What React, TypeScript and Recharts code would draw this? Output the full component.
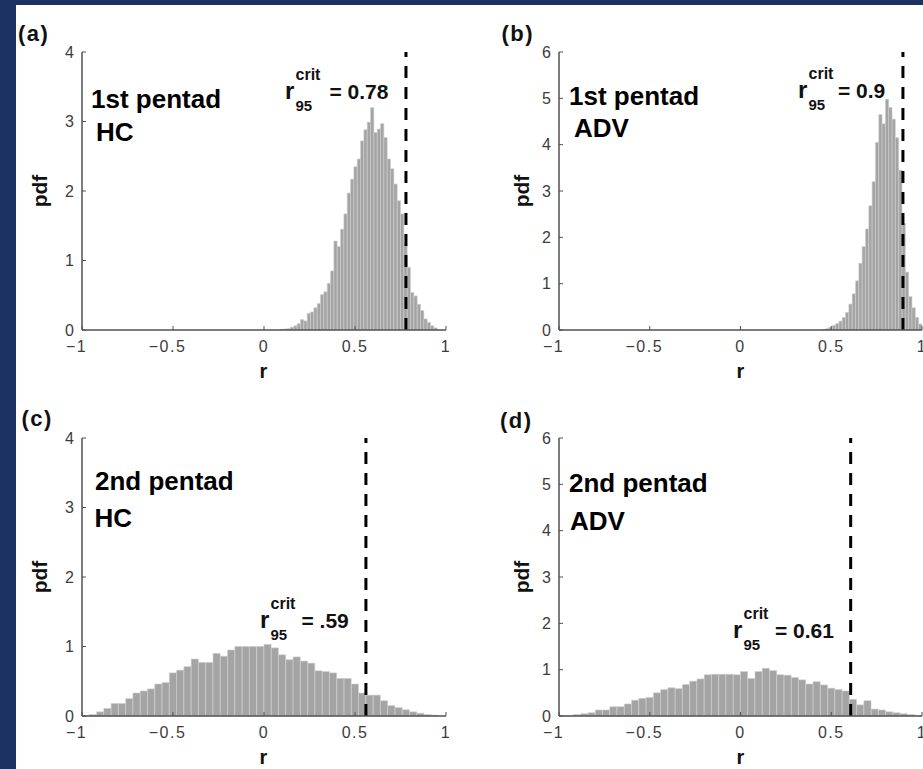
import React from 'react';
import { BarChart, Bar, XAxis, YAxis, ReferenceLine } from 'recharts';

const FONT = "'Liberation Sans', Arial, Helvetica, sans-serif";

const rTicks = [-1, -0.5, 0, 0.5, 1];
const pdfTicks4 = [0, 1, 2, 3, 4];
const pdfTicks6 = [0, 1, 2, 3, 4, 5, 6];

// (a) 1st pentad, HC
const binsA = [
  0.1, 0.1183, 0.1366, 0.155, 0.1733, 0.1916, 0.2099, 0.2282, 0.2466, 0.2649,
  0.2832, 0.3015, 0.3198, 0.3382, 0.3565, 0.3748, 0.3931, 0.4114, 0.4298, 0.4481,
  0.4664, 0.4847, 0.503, 0.5214, 0.5397, 0.558, 0.5763, 0.5946, 0.613, 0.6313,
  0.6496, 0.6679, 0.6862, 0.7046, 0.7229, 0.7412, 0.7595, 0.7778, 0.7962, 0.8145,
  0.8328, 0.8511, 0.8694, 0.8878, 0.9061, 0.9244, 0.9427,
];
const pdfA = [
  0.01, 0.015, 0.02, 0.04, 0.06, 0.09, 0.15, 0.13, 0.24, 0.26,
  0.32, 0.38, 0.51, 0.55, 0.67, 0.85, 1.28, 1.2, 1.45, 1.67,
  1.97, 2.17, 2.35, 2.46, 2.72, 2.88, 2.99, 3.2, 2.84, 2.89,
  2.97, 2.77, 2.46, 2.32, 2.1, 1.86, 1.67, 1.24, 0.9, 0.54,
  0.49, 0.37, 0.28, 0.16, 0.11, 0.06, 0.03,
];

// (b) 1st pentad, ADV
const binsB = [
  0.4597, 0.478, 0.4963, 0.5147, 0.533, 0.5513, 0.5696, 0.5879, 0.6062, 0.6246,
  0.6429, 0.6612, 0.6795, 0.6978, 0.7161, 0.7344, 0.7527, 0.7711, 0.7894, 0.8077,
  0.826, 0.8443, 0.8626, 0.881, 0.8993, 0.9176, 0.9359, 0.9542, 0.9725, 0.9908,
];
const pdfB = [
  0.01, 0.03, 0.06, 0.1, 0.14, 0.19, 0.27, 0.38, 0.56, 0.78,
  1.06, 1.44, 1.8, 2.18, 2.68, 3.2, 4.05, 4.65, 4.45, 4.98,
  4.8, 4.55, 4.15, 3.45, 2.3, 1.25, 0.72, 0.48, 0.27, 0.13,
];

// (c) 2nd pentad, HC
const binsC = [
  -0.98, -0.94, -0.9, -0.86, -0.82, -0.78, -0.74, -0.7, -0.66, -0.62,
  -0.58, -0.54, -0.5, -0.46, -0.42, -0.38, -0.34, -0.3, -0.26, -0.22,
  -0.18, -0.14, -0.1, -0.06, -0.02, 0.02, 0.06, 0.1, 0.14, 0.18,
  0.22, 0.26, 0.3, 0.34, 0.38, 0.42, 0.46, 0.5, 0.54, 0.58,
  0.62, 0.66, 0.7, 0.74, 0.78, 0.82, 0.86, 0.9, 0.94,
];
const pdfC = [
  0.005, 0.02, 0.06, 0.11, 0.18, 0.18, 0.25, 0.33, 0.36, 0.39,
  0.46, 0.48, 0.62, 0.66, 0.71, 0.82, 0.77, 0.77, 0.9, 0.86,
  0.95, 1.0, 1.0, 1.0, 1.0, 1.03, 0.98, 0.88, 0.81, 0.85,
  0.79, 0.76, 0.65, 0.64, 0.62, 0.54, 0.54, 0.46, 0.33, 0.3,
  0.3, 0.22, 0.15, 0.12, 0.09, 0.06, 0.04, 0.02, 0.01,
];

// (d) 2nd pentad, ADV
const binsD = [
  -0.98, -0.94, -0.9, -0.86, -0.82, -0.78, -0.74, -0.7, -0.66, -0.62,
  -0.58, -0.54, -0.5, -0.46, -0.42, -0.38, -0.34, -0.3, -0.26, -0.22,
  -0.18, -0.14, -0.1, -0.06, -0.02, 0.02, 0.06, 0.1, 0.14, 0.18,
  0.22, 0.26, 0.3, 0.34, 0.38, 0.42, 0.46, 0.5, 0.54, 0.58,
  0.62, 0.66, 0.7, 0.74, 0.78, 0.82, 0.86, 0.9, 0.94, 0.98,
];
const pdfD = [
  0.005, 0.01, 0.03, 0.05, 0.07, 0.13, 0.13, 0.2, 0.2, 0.26,
  0.34, 0.38, 0.4, 0.5, 0.57, 0.61, 0.59, 0.68, 0.75, 0.8,
  0.89, 0.9, 0.9, 0.9, 0.89, 0.96, 0.81, 0.96, 1.03, 0.98,
  0.89, 0.88, 0.83, 0.78, 0.69, 0.74, 0.67, 0.6, 0.57, 0.54,
  0.36, 0.24, 0.33, 0.15, 0.13, 0.09, 0.07, 0.05, 0.03, 0.01,
];

// where the dashed r95 lines sit
const critA = 0.78;
const critB = 0.895;
const critC = 0.56;
const critD = 0.607;

const ML = 70;
const MT = 10;
const MB = 60;
const MR = 10;

const TICK_FILL = '#3c3c3c';

function RTick(props: any) {
  const { x, y, payload } = props;
  const v = payload.value as number;
  const label = v < 0 ? '\u2212' + Math.abs(v) : String(v);
  return (
    <text
      x={x}
      y={y}
      dx={v < 0 ? -5.5 : 0}
      dy={12}
      textAnchor="middle"
      fill={TICK_FILL}
      fontSize={16}
      letterSpacing={1.5}
      fontFamily={FONT}
    >
      {label}
    </text>
  );
}

interface PanelProps {
  left: number;
  top: number;
  width: number;
  height: number;
  bins: number[];
  pdf: number[];
  yMax: number;
  yTicks: number[];
  crit: number;
}

function HistPanel({ left, top, width, height, bins, pdf, yMax, yTicks, crit }: PanelProps) {
  const data = bins.map((r, i) => ({ r, pdf: pdf[i] }));
  const barPx = ((bins[1] - bins[0]) * width) / 2 * 0.98;
  const axisLine = { stroke: '#505050', strokeWidth: 1.5 };
  const tickLine = { stroke: '#505050', strokeWidth: 1 };

  return (
    <div style={{ position: 'absolute', left: left - ML, top: top - MT }}>
      <BarChart
        width={width + ML + MR}
        height={height + MT + MB}
        data={data}
        margin={{ top: MT, right: MR, bottom: 0, left: 0 }}
        barCategoryGap={0}
        barGap={0}
      >
        <Bar
          xAxisId="bottom"
          yAxisId="left"
          dataKey="pdf"
          fill="#a4a4a4"
          stroke="#cdcdcd"
          strokeWidth={0.6}
          barSize={barPx}
          isAnimationActive={false}
        />
        <XAxis
          xAxisId="bottom"
          type="number"
          dataKey="r"
          domain={[-1, 1]}
          allowDataOverflow
          ticks={rTicks}
          interval={0}
          height={MB}
          tickSize={-4}
          tickMargin={14}
          axisLine={axisLine}
          tickLine={tickLine}
          tick={(p: any) => <RTick {...p} />}
        />
        <XAxis
          xAxisId="top"
          orientation="top"
          type="number"
          dataKey="r"
          domain={[-1, 1]}
          allowDataOverflow
          ticks={rTicks}
          interval={0}
          height={0}
          tickSize={-4}
          axisLine={axisLine}
          tickLine={tickLine}
          tick={false}
        />
        <YAxis
          yAxisId="left"
          type="number"
          domain={[0, yMax]}
          allowDataOverflow
          ticks={yTicks}
          interval={0}
          width={ML}
          tickSize={-4}
          tickMargin={12}
          axisLine={axisLine}
          tickLine={tickLine}
          tick={{ fill: TICK_FILL, fontSize: 16, fontFamily: FONT }}
        />
        <YAxis
          yAxisId="right"
          orientation="right"
          type="number"
          domain={[0, yMax]}
          allowDataOverflow
          ticks={yTicks}
          interval={0}
          width={0}
          tickSize={-4}
          axisLine={axisLine}
          tickLine={tickLine}
          tick={false}
        />
        <ReferenceLine
          xAxisId="bottom"
          yAxisId="left"
          x={crit}
          stroke="#000"
          strokeWidth={3}
          strokeDasharray="12 9"
        />
      </BarChart>
    </div>
  );
}

function CritLabel({ x, y, xEq, value }: { x: number; y: number; xEq: number; value: string }) {
  return (
    <g fontFamily={FONT} fontWeight="bold" fill="#111">
      <text x={x} y={y} fontSize={24}>r</text>
      <text x={x + 10.5} y={y - 19} fontSize={16}>crit</text>
      <text x={x + 10.5} y={y + 12} fontSize={15}>95</text>
      <text x={xEq} y={y} fontSize={21}>{'= ' + value}</text>
    </g>
  );
}

function AxisLabels({ left, top, width, height, pdfX }: { left: number; top: number; width: number; height: number; pdfX: number }) {
  const cy = top + height / 2;
  return (
    <g fontFamily={FONT} fontWeight="bold" fill="#111">
      <text x={left + width / 2} y={top + height + 47.5} fontSize={20} textAnchor="middle">r</text>
      <text x={pdfX} y={cy + 5.5} fontSize={21} textAnchor="middle" transform={`rotate(-90, ${pdfX}, ${cy})`}>pdf</text>
    </g>
  );
}

export default function App() {
  return (
    <div
      style={{
        position: 'absolute',
        left: 0,
        top: 0,
        width: 923,
        height: 769,
        overflow: 'hidden',
        background: '#1b3263',
      }}
    >
      <div style={{ position: 'absolute', left: 16, top: 5, width: 907, height: 764, background: '#fff' }} />

      <HistPanel left={81.5} top={52} width={364} height={278} bins={binsA} pdf={pdfA} yMax={4} yTicks={pdfTicks4} crit={critA} />
      <HistPanel left={559} top={52} width={363} height={278} bins={binsB} pdf={pdfB} yMax={6} yTicks={pdfTicks6} crit={critB} />
      <HistPanel left={81.5} top={438} width={364} height={278} bins={binsC} pdf={pdfC} yMax={4} yTicks={pdfTicks4} crit={critC} />
      <HistPanel left={559} top={438} width={363} height={278} bins={binsD} pdf={pdfD} yMax={6} yTicks={pdfTicks6} crit={critD} />

      <svg style={{ position: 'absolute', left: 0, top: 0 }} width={923} height={769}>
        <g fontFamily={FONT} fontWeight="bold" fill="#111" fontSize={22} letterSpacing={1.5}>
          <text x={18} y={40.5}>(a)</text>
          <text x={501.5} y={40.5}>(b)</text>
          <text x={21.5} y={426}>(c)</text>
          <text x={500} y={427.5}>(d)</text>
        </g>

        <g fontFamily={FONT} fontWeight="bold" fill="#000" fontSize={26}>
          <text x={91} y={108}>1st pentad</text>
          <text x={96} y={140.5}>HC</text>
          <text x={569} y={105}>1st pentad</text>
          <text x={574} y={137}>ADV</text>
          <text x={95} y={490}>2nd pentad</text>
          <text x={94.5} y={527}>HC</text>
          <text x={569} y={492}>2nd pentad</text>
          <text x={570} y={530}>ADV</text>
        </g>

        <CritLabel x={285} y={99} xEq={329.5} value="0.78" />
        <CritLabel x={798} y={98} xEq={838} value="0.9" />
        <CritLabel x={260} y={628} xEq={301.5} value=".59" />
        <CritLabel x={733} y={638} xEq={775} value="0.61" />

        <AxisLabels left={81.5} top={52} width={364} height={278} pdfX={41.5} />
        <AxisLabels left={559} top={52} width={363} height={278} pdfX={523.5} />
        <AxisLabels left={81.5} top={438} width={364} height={278} pdfX={41.5} />
        <AxisLabels left={559} top={438} width={363} height={278} pdfX={523.5} />
      </svg>
    </div>
  );
}
